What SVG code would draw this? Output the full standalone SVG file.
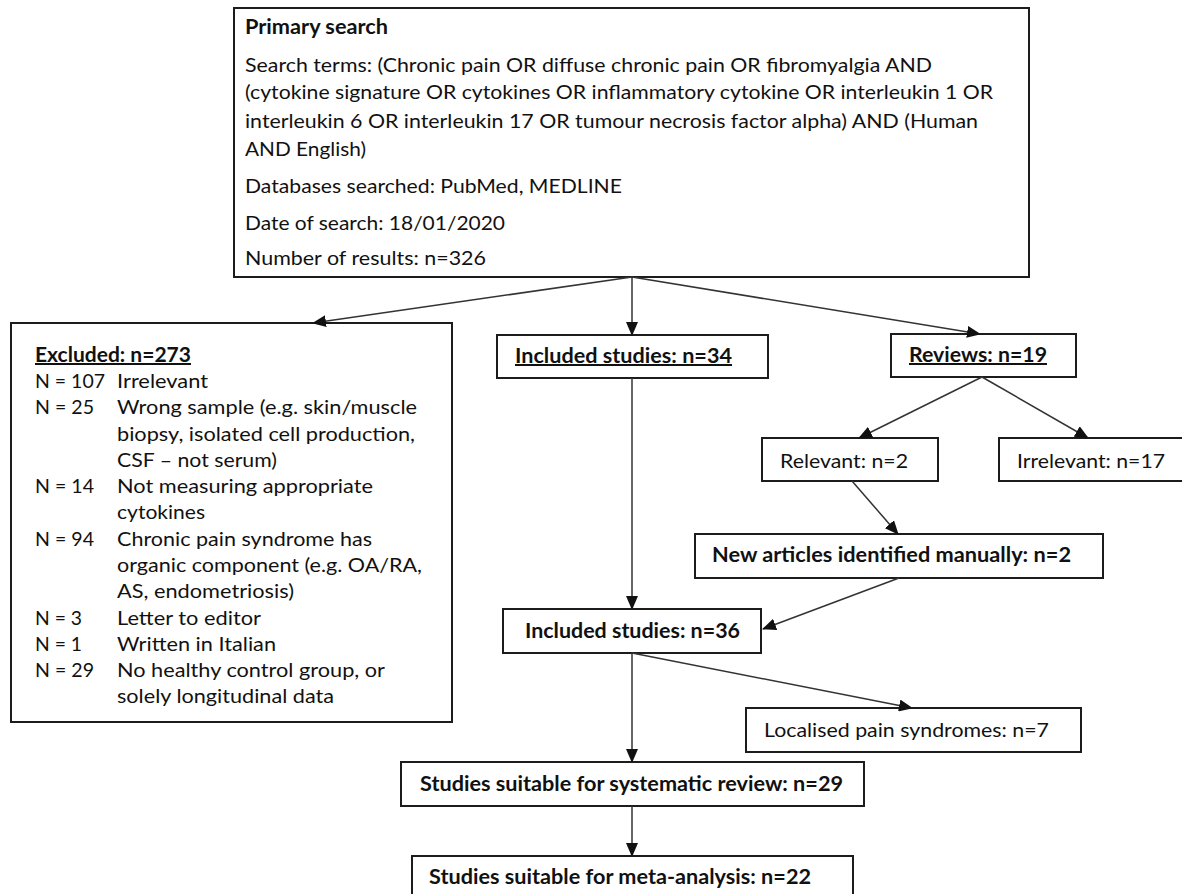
<svg xmlns="http://www.w3.org/2000/svg" width="1182" height="894" viewBox="0 0 1182 894">
  <defs>
    <marker id="arr" markerUnits="userSpaceOnUse" markerWidth="14" markerHeight="12" viewBox="0 0 14 12" refX="13" refY="6" orient="auto">
      <path d="M0,0 L14,6 L0,12 Z" fill="#111"/>
    </marker>
    <style>
      .box { fill: #fff; stroke: #1c1c1c; stroke-width: 2; }
      .t { font-family: Lato, "Liberation Sans", sans-serif; font-size: 20px; fill: #111; }
      .b { font-weight: bold; }
      .u { text-decoration: underline; }
      .conn line { stroke: #333; stroke-width: 1.5; marker-end: url(#arr); }
    </style>
  </defs>
  <rect width="1182" height="894" fill="#fff"/>

  <g id="primary-search">
    <rect class="box" x="234" y="8" width="795" height="269"/>
    <text class="t b" x="245" y="34" textLength="143" lengthAdjust="spacingAndGlyphs">Primary search</text>
    <text class="t" x="245" y="72" textLength="687" lengthAdjust="spacingAndGlyphs">Search terms: (Chronic pain OR diffuse chronic pain OR fibromyalgia AND</text>
    <text class="t" x="245" y="99" textLength="748" lengthAdjust="spacingAndGlyphs">(cytokine signature OR cytokines OR inflammatory cytokine OR interleukin 1 OR</text>
    <text class="t" x="245" y="128" textLength="733" lengthAdjust="spacingAndGlyphs">interleukin 6 OR interleukin 17 OR tumour necrosis factor alpha) AND (Human</text>
    <text class="t" x="245" y="156" textLength="121" lengthAdjust="spacingAndGlyphs">AND English)</text>
    <text class="t" x="245" y="193" textLength="377" lengthAdjust="spacingAndGlyphs">Databases searched: PubMed, MEDLINE</text>
    <text class="t" x="245" y="230" textLength="260" lengthAdjust="spacingAndGlyphs">Date of search: 18/01/2020</text>
    <text class="t" x="245" y="265" textLength="241" lengthAdjust="spacingAndGlyphs">Number of results: n=326</text>
  </g>

  <g id="excluded">
    <rect class="box" x="11" y="323" width="441" height="399"/>
    <text class="t b u" x="35" y="362" textLength="156" lengthAdjust="spacingAndGlyphs">Excluded: n=273</text>
    <text class="t" x="35" y="388" textLength="70" lengthAdjust="spacingAndGlyphs">N = 107</text>
    <text class="t" x="117" y="388" textLength="91" lengthAdjust="spacingAndGlyphs">Irrelevant</text>
    <text class="t" x="35" y="414" textLength="59" lengthAdjust="spacingAndGlyphs">N = 25</text>
    <text class="t" x="117" y="414" textLength="300" lengthAdjust="spacingAndGlyphs">Wrong sample (e.g. skin/muscle</text>
    <text class="t" x="117" y="441" textLength="298" lengthAdjust="spacingAndGlyphs">biopsy, isolated cell production,</text>
    <text class="t" x="117" y="467" textLength="160" lengthAdjust="spacingAndGlyphs">CSF – not serum)</text>
    <text class="t" x="35" y="493" textLength="59" lengthAdjust="spacingAndGlyphs">N = 14</text>
    <text class="t" x="117" y="493" textLength="256" lengthAdjust="spacingAndGlyphs">Not measuring appropriate</text>
    <text class="t" x="117" y="519" textLength="88" lengthAdjust="spacingAndGlyphs">cytokines</text>
    <text class="t" x="35" y="546" textLength="59" lengthAdjust="spacingAndGlyphs">N = 94</text>
    <text class="t" x="117" y="546" textLength="255" lengthAdjust="spacingAndGlyphs">Chronic pain syndrome has</text>
    <text class="t" x="117" y="572" textLength="305" lengthAdjust="spacingAndGlyphs">organic component (e.g. OA/RA,</text>
    <text class="t" x="117" y="598" textLength="177" lengthAdjust="spacingAndGlyphs">AS, endometriosis)</text>
    <text class="t" x="35" y="625" textLength="47" lengthAdjust="spacingAndGlyphs">N = 3</text>
    <text class="t" x="117" y="625" textLength="144" lengthAdjust="spacingAndGlyphs">Letter to editor</text>
    <text class="t" x="35" y="651" textLength="47" lengthAdjust="spacingAndGlyphs">N = 1</text>
    <text class="t" x="117" y="651" textLength="159" lengthAdjust="spacingAndGlyphs">Written in Italian</text>
    <text class="t" x="35" y="677" textLength="59" lengthAdjust="spacingAndGlyphs">N = 29</text>
    <text class="t" x="117" y="677" textLength="268" lengthAdjust="spacingAndGlyphs">No healthy control group, or</text>
    <text class="t" x="117" y="703" textLength="217" lengthAdjust="spacingAndGlyphs">solely longitudinal data</text>
  </g>

  <g id="included-34">
    <rect class="box" x="497" y="335" width="271" height="43"/>
    <text class="t b u" x="515" y="363" textLength="217" lengthAdjust="spacingAndGlyphs">Included studies: n=34</text>
  </g>

  <g id="reviews">
    <rect class="box" x="891" y="334" width="185" height="43"/>
    <text class="t b u" x="909" y="362" textLength="138" lengthAdjust="spacingAndGlyphs">Reviews: n=19</text>
  </g>

  <g id="relevant">
    <rect class="box" x="762" y="438" width="176" height="43"/>
    <text class="t" x="780" y="468" textLength="128" lengthAdjust="spacingAndGlyphs">Relevant: n=2</text>
  </g>

  <g id="irrelevant">
    <rect class="box" x="999" y="438" width="190" height="43"/>
    <text class="t" x="1017" y="468" textLength="148" lengthAdjust="spacingAndGlyphs">Irrelevant: n=17</text>
  </g>

  <g id="new-articles">
    <rect class="box" x="695" y="534" width="408" height="44"/>
    <text class="t b" x="712" y="562" textLength="359" lengthAdjust="spacingAndGlyphs">New articles identified manually: n=2</text>
  </g>

  <g id="included-36">
    <rect class="box" x="503" y="609" width="258" height="44"/>
    <text class="t b" x="525" y="638" textLength="215" lengthAdjust="spacingAndGlyphs">Included studies: n=36</text>
  </g>

  <g id="localised">
    <rect class="box" x="746" y="708" width="335" height="44"/>
    <text class="t" x="764" y="737" textLength="285" lengthAdjust="spacingAndGlyphs">Localised pain syndromes: n=7</text>
  </g>

  <g id="systematic-review">
    <rect class="box" x="401" y="762" width="463" height="44"/>
    <text class="t b" x="420" y="791" textLength="423" lengthAdjust="spacingAndGlyphs">Studies suitable for systematic review: n=29</text>
  </g>

  <g id="meta-analysis">
    <rect class="box" x="412" y="856" width="441" height="50"/>
    <text class="t b" x="429" y="884" textLength="382" lengthAdjust="spacingAndGlyphs">Studies suitable for meta-analysis: n=22</text>
  </g>

  <g id="connectors" class="conn">
    <line x1="632" y1="277" x2="313" y2="323"/>
    <line x1="632" y1="277" x2="632" y2="335"/>
    <line x1="632" y1="277" x2="980" y2="334"/>
    <line x1="982" y1="377" x2="859" y2="438"/>
    <line x1="982" y1="377" x2="1088" y2="438"/>
    <line x1="852" y1="481" x2="898" y2="534"/>
    <line x1="899" y1="578" x2="763" y2="629"/>
    <line x1="632" y1="378" x2="632" y2="609"/>
    <line x1="632" y1="653" x2="912" y2="708"/>
    <line x1="632" y1="653" x2="632" y2="762"/>
    <line x1="632" y1="806" x2="632" y2="856"/>
  </g>
</svg>
